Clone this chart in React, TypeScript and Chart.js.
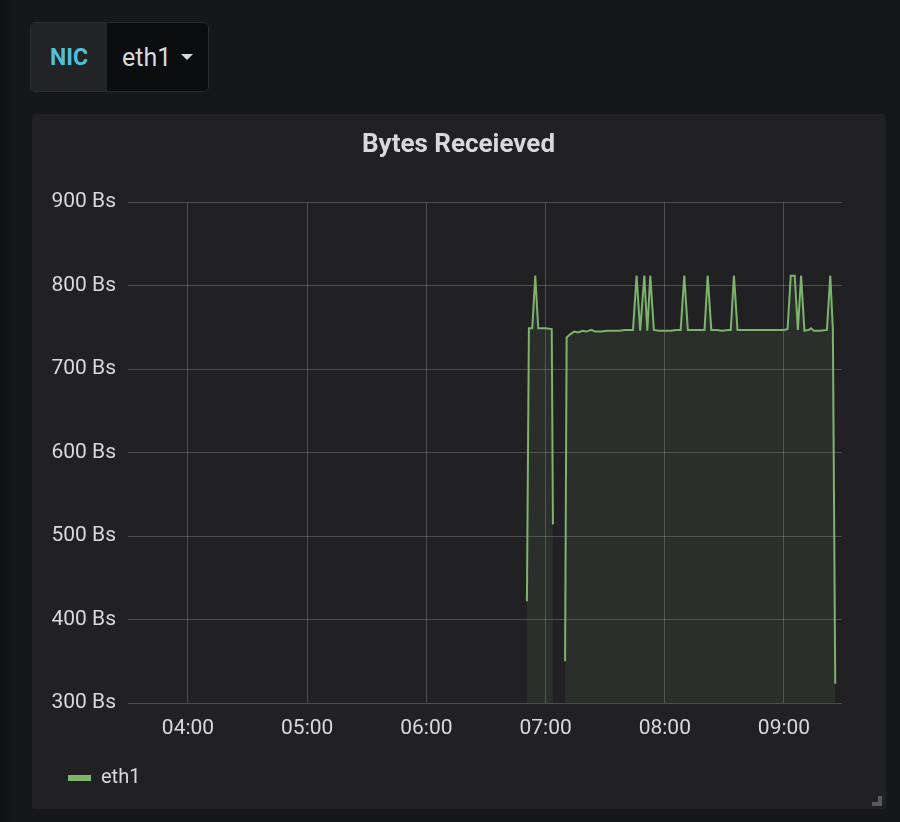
import React, { useEffect, useRef } from "react";
import { Chart, registerables } from "chart.js";

Chart.register(...registerables);

const chartTitle = "Bytes Receieved";
const seriesName = "eth1";
const variableLabel = "NIC";
const variableValue = "eth1";
const unitSuffix = " Bs";

const yTickValues = [300, 400, 500, 600, 700, 800, 900];
const xTickMinutes = [240, 300, 360, 420, 480, 540];

// minutes after midnight
const timeMinutes = [
  410.6, 411.6, 413.3, 414.8, 416.3, 420, 423.1, 423.7,
  426,
  429.8, 430.6, 432.5, 434.5, 436.5, 438.5, 440.5, 443, 445, 448, 451, 454, 457, 460, 462, 464,
  465.8, 467.6, 469.7, 471.2, 472.7, 474.5, 477, 480, 483, 486, 488,
  489.8, 491.6, 494, 497, 500, 501.6, 503.4, 506, 509, 512, 513.2,
  514.8, 516.6, 520, 524, 528, 532, 536, 540, 541.8,
  543.4, 545.4, 547, 548.6, 550.3, 552.5, 553.6, 555, 558, 561.6,
  563.3, 564.6, 565.8,
];

const bytesReceived: (number | null)[] = [
  422, 749, 749, 812, 749, 749, 748, 514,
  null,
  350, 738, 742, 745, 744, 746, 745, 747, 745, 745, 746, 746, 746, 747, 747, 747,
  812, 746, 812, 746, 812, 747, 746, 746, 746, 747, 747,
  812, 747, 747, 747, 747, 812, 747, 747, 746, 747, 747,
  812, 747, 747, 747, 747, 747, 747, 747, 748,
  812, 812, 747, 812, 746, 747, 749, 746, 746, 747,
  812, 748, 323,
];

const LINE = "#7EB26D";
const TEXT = "#d8d9da";
const GRID = "rgba(255,255,255,0.2)";

function fmtTime(m: number) {
  const h = Math.floor(m / 60);
  const mm = Math.round(m - h * 60);
  return String(h).padStart(2, "0") + ":" + String(mm).padStart(2, "0");
}

const boxShift = {
  id: "boxShift",
  afterLayout(chart: any) {
    if (chart.legend) {
      chart.legend.left += 26;
    }
    if (chart.titleBlock) {
      chart.titleBlock.left += 21.5;
      chart.titleBlock.right += 21.5;
    }
  },
};

function BytesChart() {
  const ref = useRef<HTMLCanvasElement | null>(null);
  useEffect(() => {
    if (!ref.current) return;
    Chart.defaults.font.family = "Roboto";
    const data = timeMinutes.map((t, i) => ({ x: t, y: bytesReceived[i] }));
    const chart = new Chart(ref.current, {
      type: "line",
      data: {
        datasets: [
          {
            label: seriesName,
            data: data as any,
            borderColor: LINE,
            backgroundColor: "rgba(126,178,109,0.1)",
            borderWidth: 2,
            pointRadius: 0,
            tension: 0,
            fill: "start",
            spanGaps: false,
          },
        ],
      },
      plugins: [boxShift],
      options: {
        animation: false,
        responsive: true,
        maintainAspectRatio: false,
        layout: { padding: { left: 0, right: 44, top: 0, bottom: 11 } },
        scales: {
          x: {
            type: "linear",
            min: 209.8,
            max: 569.2,
            afterBuildTicks: (scale: any) => {
              scale.ticks = xTickMinutes.map((v) => ({ value: v }));
            },
            afterFit: (scale: any) => {
              scale.height = 55;
            },
            ticks: {
              color: TEXT,
              font: { size: 21 },
              padding: 13,
              maxRotation: 0,
              autoSkip: false,
              callback: (v: any) => fmtTime(Number(v)),
            },
            grid: { color: GRID, drawTicks: false, lineWidth: 1 },
            border: { display: false },
          },
          y: {
            min: 300,
            max: 900,
            afterBuildTicks: (scale: any) => {
              scale.ticks = yTickValues.map((v) => ({ value: v }));
            },
            afterFit: (scale: any) => {
              scale.width = 96;
            },
            ticks: {
              color: TEXT,
              font: { size: 21 },
              padding: 12,
              callback: (v: any) => v + unitSuffix,
            },
            grid: { color: GRID, drawTicks: false, lineWidth: 1 },
            border: { display: false },
          },
        },
        plugins: {
          title: {
            display: true,
            text: chartTitle,
            color: TEXT,
            font: { size: 26, weight: "bold" as any },
            padding: { top: 16, bottom: 41 },
          },
          legend: {
            display: true,
            position: "bottom",
            align: "start",
            labels: {
              boxWidth: 23,
              boxHeight: 6,
              useBorderRadius: true,
              borderRadius: 3,
              color: TEXT,
              font: { size: 20 },
              padding: 10,
              generateLabels: () => [
                {
                  text: seriesName,
                  fillStyle: LINE,
                  strokeStyle: LINE,
                  lineWidth: 0,
                  hidden: false,
                  datasetIndex: 0,
                  fontColor: TEXT,
                } as any,
              ],
            },
          },
          tooltip: { enabled: false },
        },
      },
    });
    return () => chart.destroy();
  }, []);
  return <canvas ref={ref} />;
}

export default function App() {
  useEffect(() => {
    document.body.style.margin = "0";
    document.body.style.background = "#161719";
  }, []);
  return (
    <div
      style={{
        position: "relative",
        width: 900,
        height: 822,
        background: "#161719",
        overflow: "hidden",
        fontFamily: "Roboto, sans-serif",
      }}
    >
      <div
        style={{
          position: "absolute",
          left: 0,
          top: 0,
          width: 14,
          height: 822,
          background: "linear-gradient(to right, #0e0f11, rgba(22,23,25,0))",
        }}
      />
      {/* variable selector */}
      <div
        style={{
          position: "absolute",
          left: 30,
          top: 22,
          width: 179,
          height: 70,
          borderRadius: 5,
          border: "1px solid #2a2b2f",
          boxSizing: "border-box",
          display: "flex",
          overflow: "hidden",
        }}
      >
        <div
          style={{
            width: 76,
            background: "#222327",
            color: "#52bfd5",
            fontWeight: 700,
            fontSize: 23,
            display: "flex",
            alignItems: "center",
            justifyContent: "center",
          }}
        >
          {variableLabel}
        </div>
        <div
          style={{
            flex: 1,
            background: "#0b0c0e",
            color: TEXT,
            fontSize: 25,
            display: "flex",
            alignItems: "center",
            paddingLeft: 15,
          }}
        >
          <span>{variableValue}</span>
          <span
            style={{
              display: "inline-block",
              marginLeft: 10,
              width: 0,
              height: 0,
              borderLeft: "6px solid transparent",
              borderRight: "6px solid transparent",
              borderTop: "6px solid " + TEXT,
            }}
          />
        </div>
      </div>
      {/* panel */}
      <div
        style={{
          position: "absolute",
          left: 32,
          top: 114,
          width: 854,
          height: 695,
          background: "#212124",
          borderRadius: 3,
        }}
      >
        <div style={{ position: "absolute", left: 0, top: 0, width: 854, height: 695 }}>
          <BytesChart />
        </div>
        <div
          style={{
            position: "absolute",
            left: 840,
            top: 682,
            width: 10,
            height: 10,
            boxSizing: "border-box",
            borderRight: "4px solid #5a5a5c",
            borderBottom: "4px solid #5a5a5c",
          }}
        />
      </div>
    </div>
  );
}
